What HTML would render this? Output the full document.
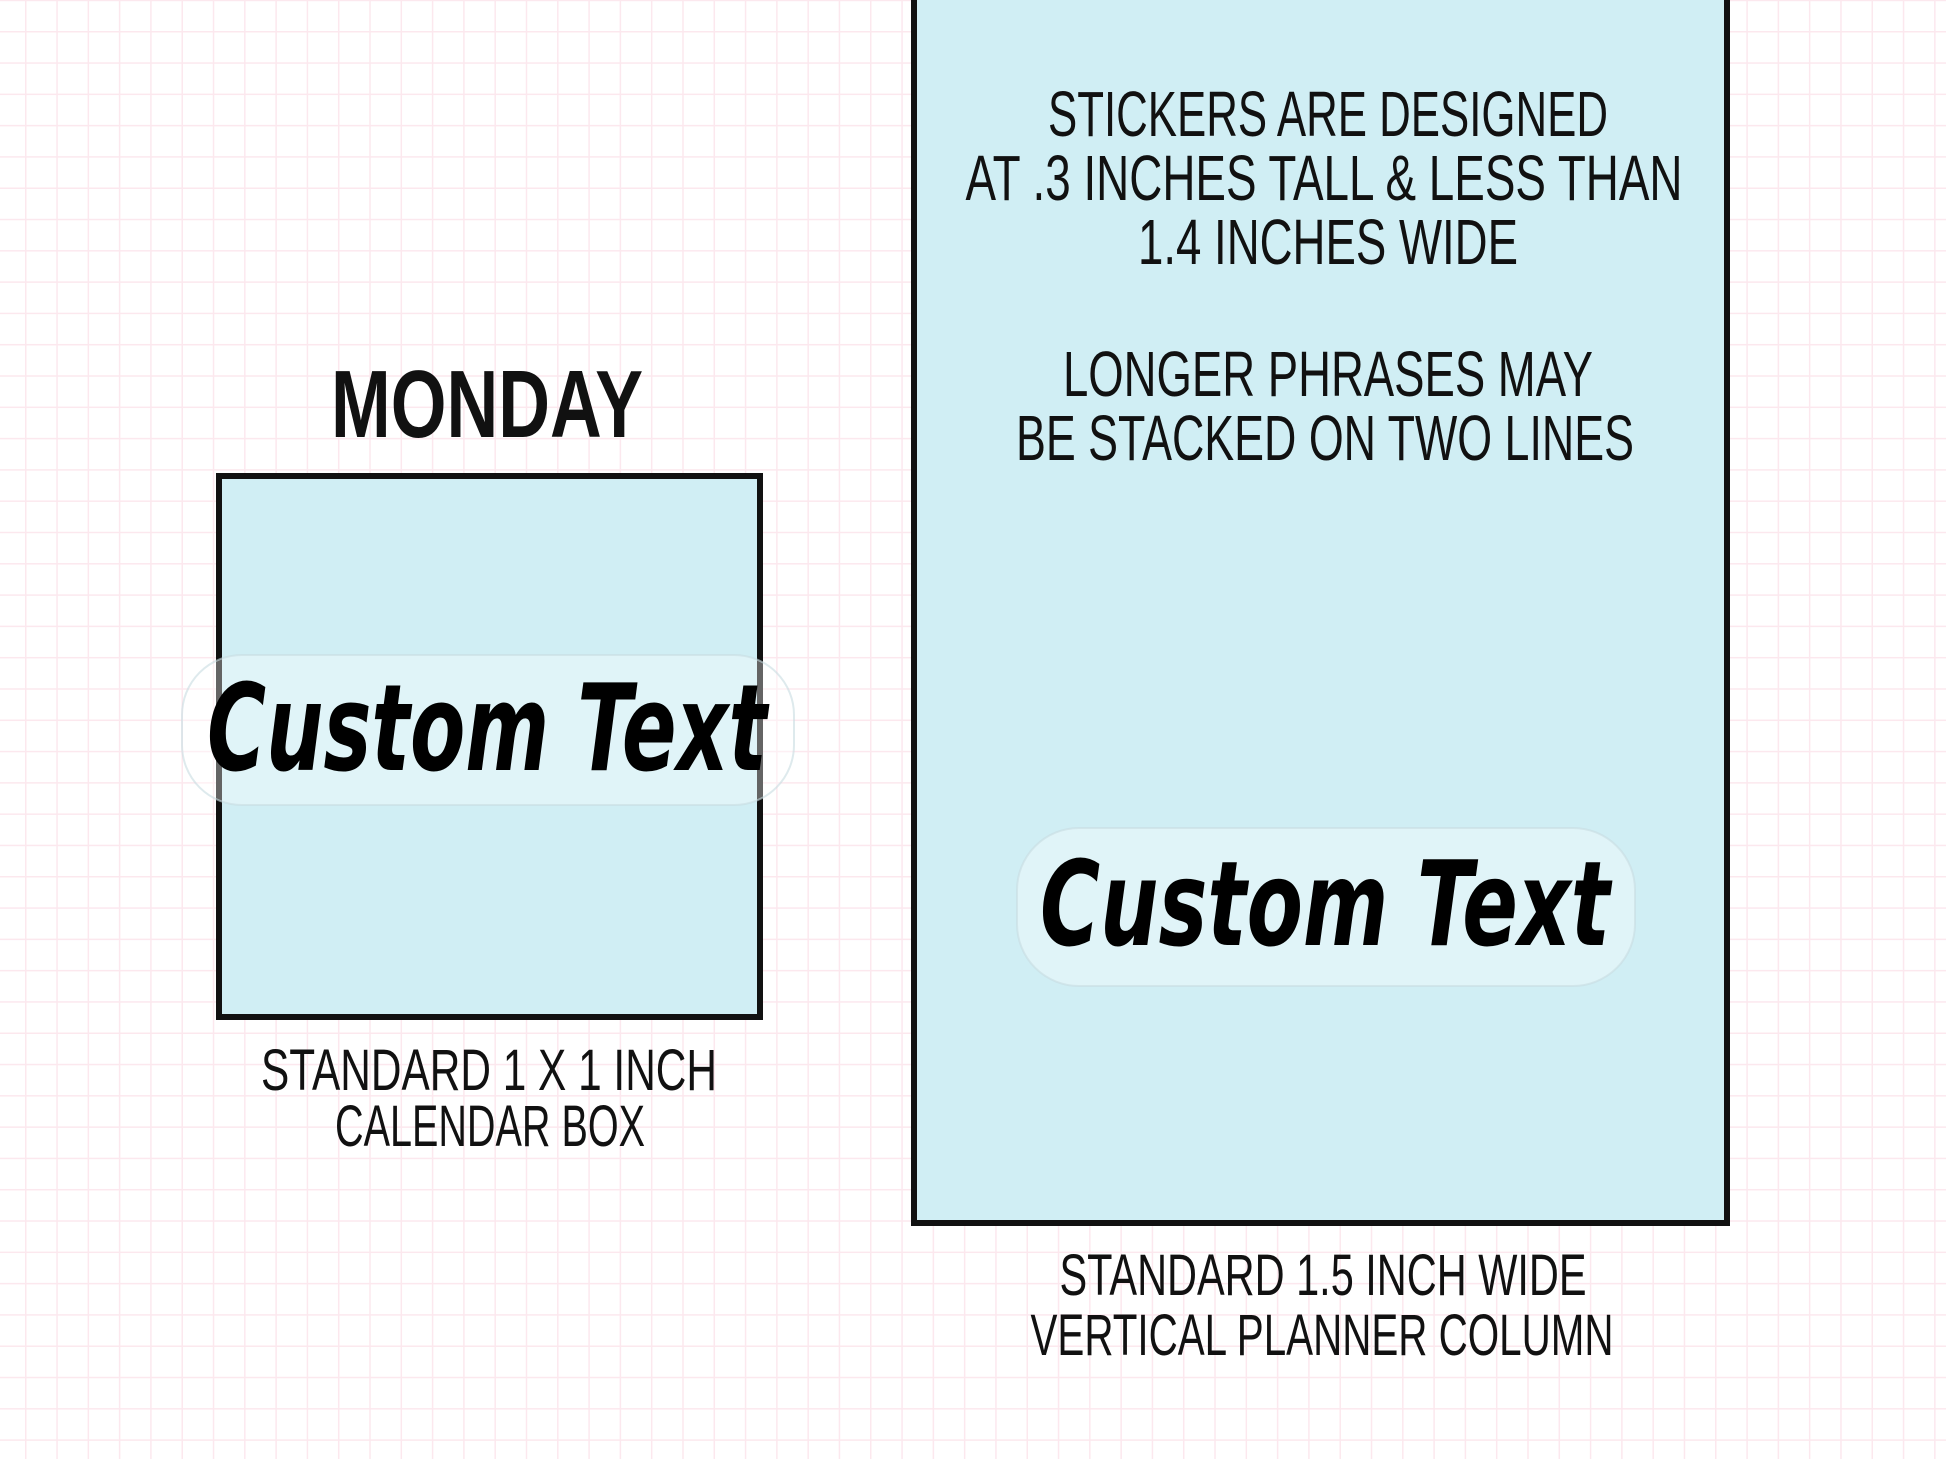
<!DOCTYPE html>
<html><head><meta charset="utf-8"><style>
html,body{margin:0;padding:0;}
body{width:1946px;height:1459px;overflow:hidden;background-color:#fff;
background-image:linear-gradient(to right,#fce8ee 1.6px,transparent 1.6px),linear-gradient(to bottom,#fce8ee 1.6px,transparent 1.6px);
background-size:31.3px 31.3px;background-position:25px 31px;}
svg{position:absolute;left:0;top:0;}
</style></head><body>
<svg width="1946" height="1459" viewBox="0 0 1946 1459" xmlns="http://www.w3.org/2000/svg">
<rect x="219" y="476" width="541" height="541" fill="#d0eef4" stroke="#111" stroke-width="6"/>
<rect x="914" y="-10" width="813" height="1233" fill="#d0eef4" stroke="#111" stroke-width="6"/>
<g fill="rgba(255,255,255,0.35)" stroke="rgba(200,220,225,0.6)" stroke-width="2">
<rect x="182" y="655" width="612" height="150" rx="60"/>
<rect x="1017" y="828" width="618" height="158" rx="62"/>
</g>
<g font-family="'Liberation Sans Narrow','Liberation Sans',sans-serif" fill="#111" text-anchor="middle">
<text x="487" y="437" font-size="96" font-weight="bold" textLength="312" lengthAdjust="spacingAndGlyphs">MONDAY</text>
<text x="1328" y="136" font-size="64" textLength="560" lengthAdjust="spacingAndGlyphs">STICKERS ARE DESIGNED</text>
<text x="1324" y="200" font-size="64" textLength="717" lengthAdjust="spacingAndGlyphs">AT .3 INCHES TALL &amp; LESS THAN</text>
<text x="1328" y="264" font-size="64" textLength="380" lengthAdjust="spacingAndGlyphs">1.4 INCHES WIDE</text>
<text x="1328" y="396" font-size="64" textLength="530" lengthAdjust="spacingAndGlyphs">LONGER PHRASES MAY</text>
<text x="1325" y="460" font-size="64" textLength="618" lengthAdjust="spacingAndGlyphs">BE STACKED ON TWO LINES</text>
<text x="489" y="1090" font-size="58" textLength="456" lengthAdjust="spacingAndGlyphs">STANDARD 1 X 1 INCH</text>
<text x="490" y="1146" font-size="58" textLength="310" lengthAdjust="spacingAndGlyphs">CALENDAR BOX</text>
<text x="1323" y="1295" font-size="58" textLength="527" lengthAdjust="spacingAndGlyphs">STANDARD 1.5 INCH WIDE</text>
<text x="1322" y="1355" font-size="58" textLength="583" lengthAdjust="spacingAndGlyphs">VERTICAL PLANNER COLUMN</text>
</g>
<g font-family="'DejaVu Sans','Liberation Sans',sans-serif" font-weight="bold" font-style="italic" fill="#000" text-anchor="middle">
<text x="487" y="770" font-size="120" textLength="560" lengthAdjust="spacingAndGlyphs">Custom Text</text>
<text x="1325" y="945" font-size="118" textLength="570" lengthAdjust="spacingAndGlyphs">Custom Text</text>
</g>
</svg>
</body></html>
